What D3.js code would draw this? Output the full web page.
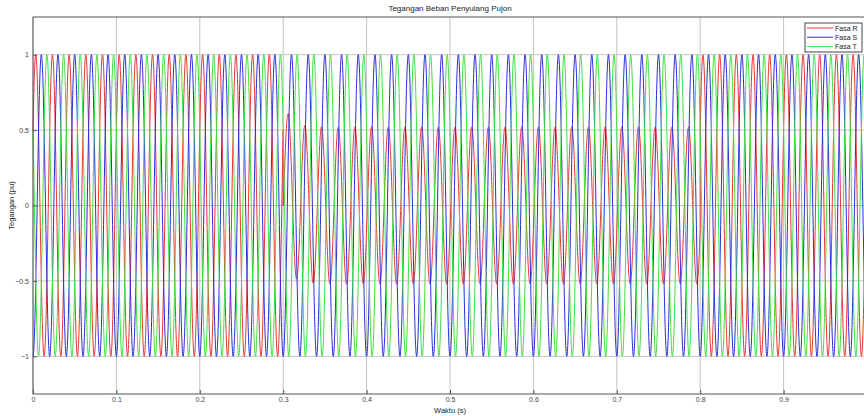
<!doctype html>
<html>
    <head>
        <meta charset="utf-8">
        <title>Tegangan Beban Penyulang Pujon</title>
        <script src="https://d3js.org/d3.v7.min.js"></script>
        <style>
            body { margin: 0; background: #fff; }
            text { font-family: "Liberation Sans", Arial, sans-serif; }
        </style>
    </head>

    <body>
        <div id="my_dataviz"></div>
        <script>
            // waveform parameters (50 Hz, three phases)
            var freq = 50;
            var phaseNames = ["Fasa R", "Fasa S", "Fasa T"];
            var phaseColors = ["#e83434", "#2c2cd8", "#40e040"];
            // segment start/end times (s): normal, sag on phase R, recovered
            var segStart = [0, 0.3, 0.8];
            var segEnd = [0.3, 0.8, 1.0];
            // peak amplitude (pu) for each phase in each segment
            var ampR = [1.0, 0.52, 1.0];
            var ampS = [1.0, 1.0, 1.0];
            var ampT = [1.0, 1.0, 1.0];
            // phase angle (deg) for each phase in each segment
            var angR = [30, -18, 30];
            var angS = [-90, -90, -90];
            var angT = [150, 150, 150];
            // decaying offset on R when the sag starts (pu), decay time (s)
            var sagOffset = [0, 0.16, 0];
            var sagDecay = 0.01;
            var sampleStep = 0.0002;

            var xTicks = [0, 0.1, 0.2, 0.3, 0.4, 0.5, 0.6, 0.7, 0.8, 0.9];
            var yTicks = [-1, -0.5, 0, 0.5, 1];

            var margin = {top: 17, right: -3, bottom: 22, left: 33},
                width = 864 - margin.left - margin.right,
                height = 416 - margin.top - margin.bottom;

            var svg = d3.select("#my_dataviz")
            .append("svg")
                .attr("width", 864)
                .attr("height", 416)
            .append("g")
                .attr("transform", "translate(" + margin.left + "," + margin.top + ")");

            var x = d3.scaleLinear().domain([0, 1]).range([0, width]);
            var y = d3.scaleLinear().domain([-1.25, 1.25]).range([height, 0]);

            // build sampled series from segment parameters
            function buildSeries(amp, ang, offs) {
                var pts = [];
                for (var s = 0; s < segStart.length; s++) {
                    var n = Math.round((segEnd[s] - segStart[s]) / sampleStep);
                    for (var i = 0; i <= n; i++) {
                        var t = segStart[s] + i * sampleStep;
                        var v = amp[s] * Math.sin(2 * Math.PI * freq * t + ang[s] * Math.PI / 180);
                        if (offs && offs[s]) v += offs[s] * Math.exp(-(t - segStart[s]) / sagDecay);
                        pts.push({t: t, v: v});
                    }
                }
                return pts;
            }
            var series = [
                buildSeries(ampR, angR, sagOffset),
                buildSeries(ampS, angS, null),
                buildSeries(ampT, angT, null)
            ];

            // grid
            svg.append("g")
                .selectAll("line")
                .data(xTicks)
                .enter().append("line")
                    .attr("x1", function(d) { return x(d); })
                    .attr("x2", function(d) { return x(d); })
                    .attr("y1", 0).attr("y2", height)
                    .attr("stroke", "#c4c4c4").attr("stroke-width", 1);
            svg.append("g")
                .selectAll("line")
                .data(yTicks)
                .enter().append("line")
                    .attr("x1", 0).attr("x2", width)
                    .attr("y1", function(d) { return y(d); })
                    .attr("y2", function(d) { return y(d); })
                    .attr("stroke", "#c4c4c4").attr("stroke-width", 1);

            // lines
            var line = d3.line()
                .x(function(d) { return x(d.t); })
                .y(function(d) { return y(d.v); });
            svg.append("g")
                .selectAll("path")
                .data(series)
                .enter().append("path")
                    .attr("fill", "none")
                    .attr("stroke", function(d, i) { return phaseColors[i]; })
                    .attr("stroke-width", 1)
                    .attr("d", line);

            // axes box
            svg.append("rect")
                .attr("width", width).attr("height", height)
                .attr("fill", "none").attr("stroke", "#555").attr("stroke-width", 1);

            var xAxis = svg.append("g")
                .attr("transform", "translate(0," + height + ")")
                .call(d3.axisBottom(x).tickValues(xTicks).tickFormat(d3.format("")).tickSizeInner(-4).tickSizeOuter(0).tickPadding(3));
            var yAxis = svg.append("g")
                .call(d3.axisLeft(y).tickValues(yTicks).tickFormat(d3.format("")).tickSizeInner(-4).tickSizeOuter(0).tickPadding(4));
            [xAxis, yAxis].forEach(function(a) {
                a.select(".domain").remove();
                a.selectAll("line").attr("stroke", "#555");
                a.selectAll("text").attr("fill", "#444").style("font-size", "7px");
            });

            // labels
            svg.append("text")
                .attr("text-anchor", "middle")
                .attr("x", width / 2).attr("y", -6)
                .style("font-size", "8px").attr("fill", "#222")
                .text("Tegangan Beban Penyulang Pujon");
            svg.append("text")
                .attr("text-anchor", "middle")
                .attr("x", width / 2).attr("y", height + 19)
                .style("font-size", "7.5px").attr("fill", "#222")
                .text("Waktu (s)");
            svg.append("text")
                .attr("text-anchor", "middle")
                .attr("transform", "rotate(-90)")
                .attr("x", -height / 2).attr("y", -19)
                .style("font-size", "7.5px").attr("fill", "#222")
                .text("Tegangan (pu)");

            // legend
            var lg = svg.append("g")
                .attr("transform", "translate(" + (805 - margin.left) + "," + (23 - margin.top) + ")");
            lg.append("rect")
                .attr("width", 57).attr("height", 29)
                .attr("fill", "#fff").attr("stroke", "#444").attr("stroke-width", 1);
            phaseNames.forEach(function(name, i) {
                lg.append("line")
                    .attr("x1", 2).attr("x2", 28)
                    .attr("y1", 5 + i * 9.2).attr("y2", 5 + i * 9.2)
                    .attr("stroke", phaseColors[i]).attr("stroke-width", 1);
                lg.append("text")
                    .attr("x", 30).attr("y", 7.5 + i * 9.2)
                    .style("font-size", "7px").attr("fill", "#222")
                    .text(name);
            });
        </script>
    </body>
</html>
